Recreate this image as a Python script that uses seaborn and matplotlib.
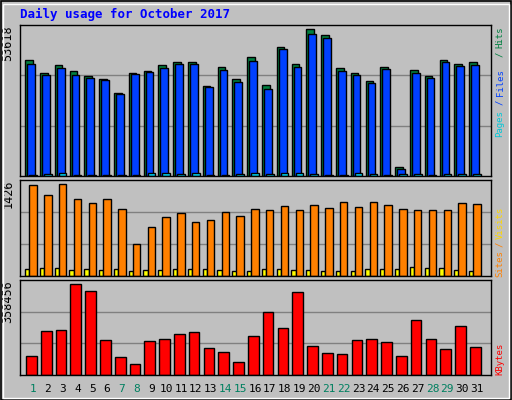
import matplotlib
matplotlib.use("Agg")
import matplotlib.pyplot as plt
import seaborn as sns
import numpy as np
import pandas as pd
from matplotlib.patches import Rectangle

days = list(range(1, 32))
hits = [42285,37533,40458,38264,36436,35339,30221,37533,38264,40458,41554,41554,32780,39726,35339,
        43382,33146,47038,40823,53618,51425,39361,37533,34608,39726,3168,38630,36436,42285,40823,41554]
files = [40823,36802,39361,36802,35705,34974,29856,37167,37898,39361,40823,40823,32415,38630,34243,
         41920,31684,46307,39726,51791,50328,38264,36802,33877,38995,2437,37533,35705,41554,40092,40458]
pages = [370,600,980,380,370,370,370,370,980,980,600,980,370,370,600,980,600,980,980,600,370,370,
         980,600,370,600,600,370,600,600,600]
sites = [1411,1256,1426,1194,1132,1194,1039,496,760,915,977,837,868,992,930,1039,1023,1085,1023,
         1101,1054,1147,1070,1147,1101,1039,1023,1023,1023,1132,1116]
visits = [108,124,124,93,108,93,108,78,93,93,108,108,108,93,78,78,108,108,93,93,78,78,78,108,108,
          108,140,124,124,93,78]
kbytes = [74841,173316,177255,358456,330876,137865,70902,43329,133926,141804,161499,169377,106353,
          90597,51207,153621,248157,185133,326937,114231,86658,82719,137865,141804,129987,74841,
          216645,141804,102414,193011,110292]
weekend = {1, 7, 8, 14, 15, 21, 22, 28, 29}
title = "Daily usage for October 2017"

BG = "#C0C0C0"
fig = plt.figure(figsize=(5.12, 4.0), dpi=100, facecolor=BG)
W, H = 512, 400
def box(top, bottom):
    return [20 / W, 1 - bottom / H, (491 - 20) / W, (bottom - top) / H]

ax1 = fig.add_axes(box(25, 176))
ax2 = fig.add_axes(box(180, 276))
ax3 = fig.add_axes(box(280, 375))

def bars(ax, vals, off, width, color):
    df = pd.DataFrame({"x": [d + off for d in days], "y": vals})
    sns.barplot(data=df, x="x", y="y", native_scale=True, width=width, color=color,
                edgecolor="black", linewidth=1, saturation=1, ax=ax)

bars(ax1, hits, -0.27, 0.52, "#008040")
bars(ax1, files, -0.13, 0.52, "#0040FF")
bars(ax1, pages, 0.0, 0.52, "#00E0FF")
bars(ax2, visits, -0.39, 0.3, "#FFFF00")
bars(ax2, sites, 0.0, 0.5, "#FF8000")
bars(ax3, kbytes, -0.11, 0.72, "#FF0000")

for ax, top in ((ax1, max(hits) * 1.03), (ax2, max(sites) * 1.045), (ax3, max(kbytes) * 1.045)):
    ax.set_facecolor(BG)
    ax.set_xlim(0.12, 31.95)
    ax.set_ylim(0, top)
    for f in (1 / 3, 2 / 3):
        ax.axhline(top * f, color="#808080", lw=1, zorder=0)
    ax.set_xticks([]); ax.set_yticks([])
    ax.set_xlabel(""); ax.set_ylabel("")
    for s in ax.spines.values():
        s.set_color("black"); s.set_linewidth(1)

mono = "DejaVu Sans Mono"
for ax, v in ((ax1, max(hits)), (ax2, max(sites)), (ax3, max(kbytes))):
    ax.text(-0.012, 1.0, str(v), rotation=90, ha="right", va="top",
            transform=ax.transAxes, fontsize=8.5, family=mono)

def rlabel(txt, y, color):
    fig.text(500 / W, 1 - y / H, txt, rotation=90, ha="center", va="center",
             fontsize=6.5, family=mono, color=color)

rlabel("Pages", 124, "#00C8D8")
rlabel("/", 102, "#0040FF")
rlabel("Files", 83, "#0040FF")
rlabel("/", 54, "#008040")
rlabel("Hits", 37, "#008040")
rlabel("Sites", 264, "#FF8000")
rlabel("/", 244, "#FF8000")
rlabel("Visits", 223, "#FFD800")
rlabel("KBytes", 359, "#FF0000")

for d in days:
    xf = (d - 0.12) / (31.95 - 0.12)
    fig.text((20 + xf * 471) / W, 1 - 389 / H, str(d), ha="center", va="center",
             fontsize=8, family=mono, color="#008060" if d in weekend else "black")

fig.text(20 / W, 1 - 14 / H, title, ha="left", va="center", fontsize=9,
         family=mono, weight="bold", color="#0000FF")

fig.patches.append(Rectangle((0.5 / W, 0.5 / H), 1 - 1.5 / W, 1 - 1.5 / H,
                             transform=fig.transFigure, fill=False, edgecolor="black", lw=1.2))
fig.patches.append(Rectangle((2.5 / W, 2.5 / H), 1 - 6 / W, 1 - 6 / H,
                             transform=fig.transFigure, fill=False, edgecolor="white", lw=1))

fig.savefig("out.png", dpi=100, facecolor=BG)
